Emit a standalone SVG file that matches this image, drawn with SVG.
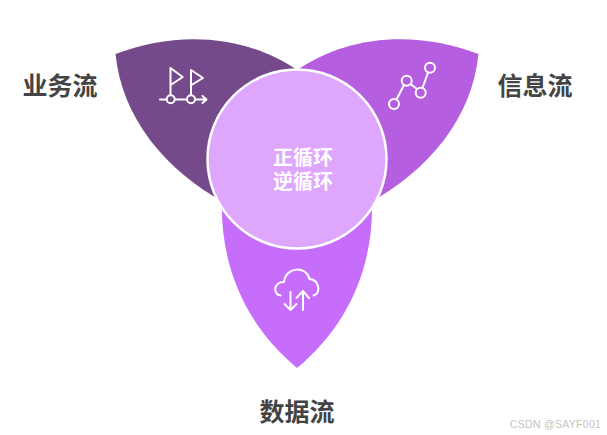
<svg xmlns="http://www.w3.org/2000/svg" width="607" height="435" viewBox="0 0 607 435">
<style>
.ico{fill:none;stroke:#fff;stroke-width:2;stroke-linecap:round;stroke-linejoin:round}
.lab{font-family:"Noto Sans CJK SC","Liberation Sans",sans-serif;font-size:25px;font-weight:700;fill:#444;text-anchor:middle}
.cen{font-family:"Noto Sans CJK SC","Liberation Sans",sans-serif;font-size:20px;font-weight:700;fill:#fff;text-anchor:middle}
</style>
<rect width="607" height="435" fill="#fff"/>
<g id="node-business">
<path d="M115.500 54 C175 31 245 33 300 72 L225 203 C165 170 122 118 115.500 54Z" fill="#754a8b"/>
<g class="ico">
<path d="M170.500 95V68L182.700 77 170.700 85"/><path d="M191 95V70L203 78 191.500 85"/>
<path d="M160 99.500H166.500M175 99.500H187M195 99.500H206M202.500 96L206.500 99.500 202.500 103"/>
<circle cx="170.700" cy="99.300" r="4"/><circle cx="191" cy="99.300" r="4"/>
</g>
</g>
<g id="node-info">
<path d="M478.500 54 C419 31 349 33 294 72 L369 203 C429 170 472 118 478.500 54Z" fill="#b55ee0"/>
<g class="ico">
<circle cx="394" cy="104" r="5"/><circle cx="406.700" cy="80.700" r="5"/><circle cx="420.700" cy="92.700" r="5"/><circle cx="430" cy="67.700" r="5"/>
<path d="M396.500 99.500L404 85M410.500 84L417 89M422.500 88L428 72.500"/>
</g>
</g>
<g id="node-data">
<path d="M222 200 C220 265 245 325 297 368 C349 325 374 265 372 200Z" fill="#c76dfc"/>
<g class="ico">
<path d="M280.500 295.500C273 295 273 282 284 282C285.500 266 307 266 309.500 279C320 280 321 294 313.500 295.500"/>
<path d="M290.500 292V310M284.500 304L290.500 310 296.500 304"/>
<path d="M303 310V291M296.500 298L303 291 309 298"/>
</g>
</g>
<g id="node-center">
<circle cx="297" cy="159" r="89.500" fill="#dfa6fe" stroke="#fff" stroke-width="2.500"/>
<text class="cen" x="303" y="165">正循环<tspan x="303" dy="24">逆循环</tspan></text>
</g>
<g id="labels">
<text class="lab" x="60" y="95">业务流</text>
<text class="lab" x="535" y="95">信息流</text>
<text class="lab" x="297" y="421">数据流</text>
</g>
<text x="555.500" y="428" font-family="Liberation Sans,sans-serif" font-size="10.500" letter-spacing=".3" fill="#c4c4c4" text-anchor="middle">CSDN @SAYF001</text>
</svg>
